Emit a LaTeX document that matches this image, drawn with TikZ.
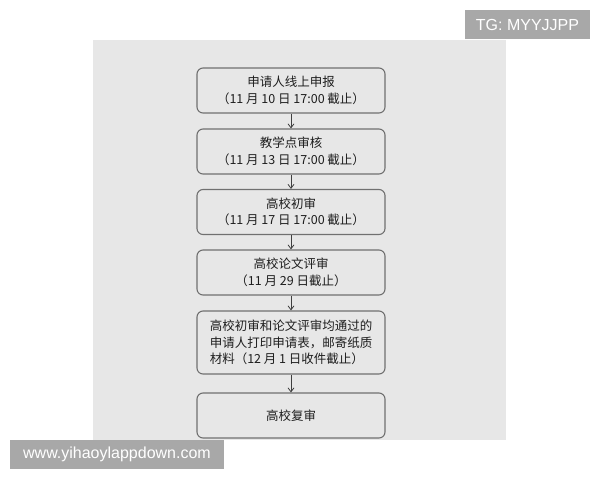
\documentclass[tikz,border=0pt]{standalone}
\usepackage{fontspec}
\setmainfont{Liberation Sans}
\newfontfamily\cjk{Noto Sans CJK SC}
\usetikzlibrary{arrows.meta}
\definecolor{panel}{HTML}{E7E7E7}
\definecolor{wmark}{HTML}{A8A8A8}
\definecolor{edge}{HTML}{707070}
\definecolor{ink}{HTML}{1E1E1E}
\tikzset{
  stepbox/.style={draw=edge, line width=1.1pt, rounded corners=6pt, fill=panel,
    minimum width=188pt, minimum height=45pt, inner sep=0pt, align=center,
    text=ink, font=\cjk\fontsize{12.5}{16.5}\selectfont},
  flow/.style={draw=ink!85, line width=0.8pt, -{Straight Barb[length=4pt,width=6pt]}},
  tag/.style={fill=wmark, text=white, inner sep=0pt, font=\fontsize{16}{16}\selectfont}
}
\begin{document}
\begin{tikzpicture}[x=1pt,y=-1pt]
\useasboundingbox (0,0) rectangle (600,480);
\fill[panel] (93,40) rectangle (506,440);
\node[tag, minimum width=125pt, minimum height=29pt] (tg) at (527.5,24.5) {TG: MYYJJPP};
\node[stepbox] (b1) at (291,90.5) {申请人线上申报\\（11 月 10 日 17:00 截止）};
\node[stepbox] (b2) at (291,151.5) {教学点审核\\（11 月 13 日 17:00 截止）};
\node[stepbox] (b3) at (291,212) {高校初审\\（11 月 17 日 17:00 截止）};
\node[stepbox] (b4) at (291,272.5) {高校论文评审\\（11 月 29 日截止）};
\node[stepbox, minimum height=63pt, align=left] (b5) at (291,342.5) {高校初审和论文评审均通过的\\申请人打印申请表，邮寄纸质\\材料（12 月 1 日收件截止）};
\node[stepbox] (b6) at (291,415.5) {高校复审};
\draw[flow] (b1) -- (b2);
\draw[flow] (b2) -- (b3);
\draw[flow] (b3) -- (b4);
\draw[flow] (b4) -- (b5);
\draw[flow] (b5) -- (b6);
\node[tag, minimum width=214pt, minimum height=29pt] (wm) at (117,454.5) {www.yihaoylappdown.com};
\end{tikzpicture}
\end{document}
